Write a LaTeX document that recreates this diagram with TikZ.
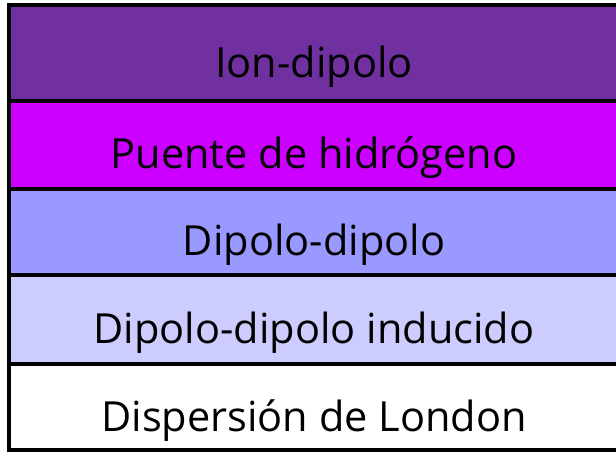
\documentclass[tikz,border=0pt]{standalone}
\usepackage{fontspec}
\setmainfont{Open Sans}
\begin{document}
\begin{tikzpicture}[x=1pt,y=1pt,
  rowtext/.style={anchor=base,inner sep=0pt,font=\fontsize{41.5}{48}\selectfont},
  rowline/.style={line width=4pt,draw=black}]
\useasboundingbox (0,0) rectangle (616,452);
\clip (0,0) rectangle (616,452);
% rows (y measured from top: 5,101,189,275,364,450)
\fill[fill={rgb,255:red,112;green,48;blue,160}] (9,452-5) rectangle (619,452-101);
\fill[fill={rgb,255:red,204;green,0;blue,255}] (9,452-101) rectangle (619,452-189);
\fill[fill={rgb,255:red,153;green,153;blue,255}] (9,452-189) rectangle (619,452-275);
\fill[fill={rgb,255:red,204;green,204;blue,255}] (9,452-275) rectangle (619,452-364);
\fill[fill=white] (9,452-364) rectangle (619,452-450);
\draw[rowline] (9,452-101) -- (619,452-101);
\draw[rowline] (9,452-189) -- (619,452-189);
\draw[rowline] (9,452-275) -- (619,452-275);
\draw[rowline] (9,452-364) -- (619,452-364);
\draw[rowline] (9,452-5) rectangle (619,452-450);
\node[rowtext] (t1) at (314,452-78) {Ion-dipolo};
\node[rowtext] (t2) at (314,452-169) {Puente de hidrógeno};
\node[rowtext] (t3) at (314,452-256) {Dipolo-dipolo};
\node[rowtext] (t4) at (314,452-344) {Dipolo-dipolo inducido};
\node[rowtext] (t5) at (314,452-432) {Dispersión de London};
\end{tikzpicture}
\end{document}
